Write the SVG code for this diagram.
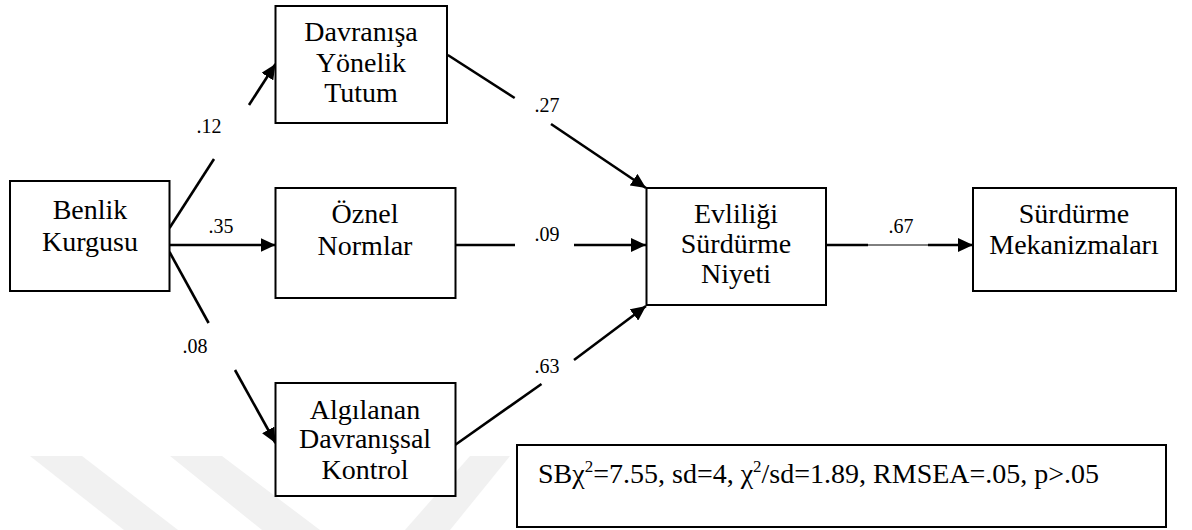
<svg xmlns="http://www.w3.org/2000/svg" width="1192" height="530" viewBox="0 0 1192 530">
<style>
.box{fill:#fff;stroke:#000;stroke-width:2}
text{font-family:'Liberation Serif','Times New Roman',Times,'DejaVu Serif',serif;fill:#000}
.t{font-size:28px;text-anchor:middle}
.lbl{font-size:20px;text-anchor:middle}
.stat{font-size:28px}
.c{stroke:#000;stroke-width:2.6;fill:none}
.thin{stroke:#000;stroke-width:1;fill:none}
.wm{fill:#f1f1f1}
</style>
<defs>
<marker id="ah" markerUnits="userSpaceOnUse" markerWidth="16" markerHeight="14" refX="15" refY="7" orient="auto">
<path d="M0,0 L15,7 L0,14 z" fill="#000"/>
</marker>
</defs>
<g id="watermark">
<polygon class="wm" points="30,456 82,456 178,530 124,530"/>
<polygon class="wm" points="170,456 222,456 320,530 262,530"/>
<polygon class="wm" points="470,456 510,456 450,530 405,530"/>
</g>
<g id="connectors">
<line class="c" x1="169.5" y1="228" x2="214" y2="159"/>
<line class="c" x1="249" y1="105" x2="275.5" y2="64" marker-end="url(#ah)"/>
<line class="c" x1="169.5" y1="245" x2="275.5" y2="245" marker-end="url(#ah)"/>
<line class="c" x1="169.5" y1="252" x2="208.6" y2="323"/>
<line class="c" x1="235" y1="370" x2="275.5" y2="443" marker-end="url(#ah)"/>
<line class="c" x1="447.8" y1="55" x2="514.7" y2="98"/>
<line class="c" x1="551" y1="124" x2="646" y2="188" marker-end="url(#ah)"/>
<line class="c" x1="455" y1="245" x2="515" y2="245"/>
<line class="c" x1="574" y1="245" x2="646" y2="245" marker-end="url(#ah)"/>
<line class="c" x1="455" y1="445" x2="541.5" y2="384"/>
<line class="c" x1="574" y1="360" x2="646" y2="306" marker-end="url(#ah)"/>
<line class="c" x1="826" y1="245" x2="868" y2="245"/>
<line class="thin" x1="868" y1="245" x2="928" y2="245"/>
<line class="c" x1="928" y1="245" x2="973" y2="245" marker-end="url(#ah)"/>
<text class="lbl" x="209" y="133">.12</text>
<text class="lbl" x="221" y="233">.35</text>
<text class="lbl" x="195" y="353">.08</text>
<text class="lbl" x="547" y="112">.27</text>
<text class="lbl" x="547" y="241">.09</text>
<text class="lbl" x="547" y="373">.63</text>
<text class="lbl" x="901" y="233">.67</text>
</g>
<g id="benlik">
<rect class="box" x="10" y="181" width="159.5" height="110"/>
<text class="t" x="90" y="219">Benlik</text>
<text class="t" x="90" y="251">Kurgusu</text>
</g>
<g id="tutum">
<rect class="box" x="275.5" y="6" width="171.5" height="117"/>
<text class="t" x="361" y="41">Davranışa</text>
<text class="t" x="361" y="72">Yönelik</text>
<text class="t" x="361" y="102">Tutum</text>
</g>
<g id="oznel">
<rect class="box" x="275.5" y="188" width="180" height="110"/>
<text class="t" x="365" y="223">Öznel</text>
<text class="t" x="365" y="255">Normlar</text>
</g>
<g id="algilanan">
<rect class="box" x="275.5" y="383" width="180" height="113"/>
<text class="t" x="365" y="419">Algılanan</text>
<text class="t" x="365" y="448">Davranışsal</text>
<text class="t" x="365" y="479">Kontrol</text>
</g>
<g id="evliligi">
<rect class="box" x="646.5" y="188" width="179.5" height="117"/>
<text class="t" x="736" y="223">Evliliği</text>
<text class="t" x="736" y="253">Sürdürme</text>
<text class="t" x="736" y="283">Niyeti</text>
</g>
<g id="surdurme">
<rect class="box" x="973" y="188" width="203" height="103"/>
<text class="t" x="1074" y="223">Sürdürme</text>
<text class="t" x="1074" y="254">Mekanizmaları</text>
</g>
<g id="fit">
<rect class="box" x="517" y="445" width="649" height="82"/>
<text class="stat" x="538" y="483">SBχ<tspan dy="-11" font-size="17">2</tspan><tspan dy="11">=7.55, sd=4, χ</tspan><tspan dy="-11" font-size="17">2</tspan><tspan dy="11">/sd=1.89, RMSEA=.05, p&gt;.05</tspan></text>
</g>
</svg>
